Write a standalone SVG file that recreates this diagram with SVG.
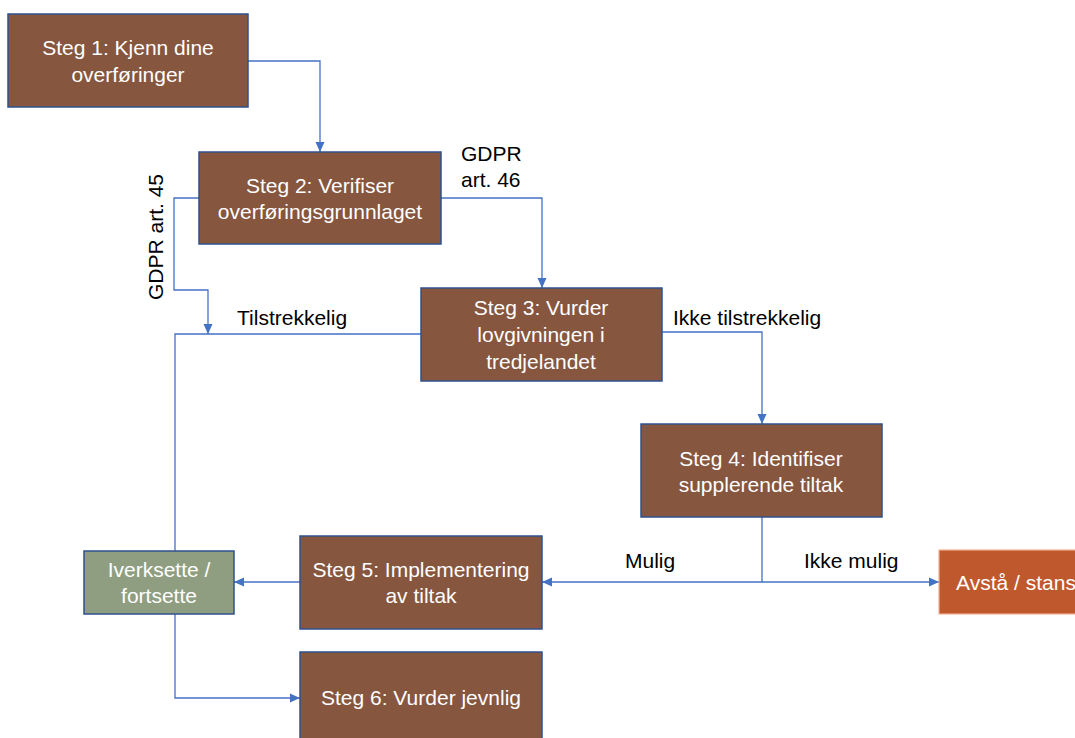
<svg xmlns="http://www.w3.org/2000/svg" width="1075" height="738" viewBox="0 0 1075 738">
<style>
  .box { fill: #86563F; stroke: #2F528F; stroke-width: 1.5; }
  .green { fill: #8F9E80; stroke: #2F528F; stroke-width: 1.5; }
  .orange { fill: #C0582D; stroke: #F2B08F; stroke-width: 1.2; }
  .t { font-family: "Liberation Sans", Arial, sans-serif; font-size: 21px; fill: #FFFFFF; text-anchor: middle; }
  .lbl { font-family: "Liberation Sans", Arial, sans-serif; font-size: 21px; fill: #000000; }
  .con { fill: none; stroke: #4472C4; stroke-width: 1.3; }
</style>
<defs>
  <marker id="arr" markerUnits="userSpaceOnUse" markerWidth="10" markerHeight="10" viewBox="0 0 10 10" refX="10" refY="5" orient="auto">
    <path d="M0,0.5 L10,5 L0,9.5 Z" fill="#4472C4"/>
  </marker>
</defs>
<rect width="1075" height="738" fill="#FFFFFF"/>

<g id="connectors">
  <path class="con" d="M248,61 H320 V152" marker-end="url(#arr)"/>
  <path class="con" d="M441,198 H542 V288" marker-end="url(#arr)"/>
  <path class="con" d="M199,198 H174 V290 H208 V334" marker-end="url(#arr)"/>
  <path class="con" d="M421,334 H175 V551"/>
  <path class="con" d="M662,332 H762 V424" marker-end="url(#arr)"/>
  <path class="con" d="M762,517 V582 H542" marker-end="url(#arr)"/>
  <path class="con" d="M762,582 H939" marker-end="url(#arr)"/>
  <path class="con" d="M300,582 H234" marker-end="url(#arr)"/>
  <path class="con" d="M175,614 V698 H300" marker-end="url(#arr)"/>
</g>

<g id="labels">
  <text class="lbl" x="461" y="161">GDPR</text>
  <text class="lbl" x="461" y="187">art. 46</text>
  <text class="lbl" transform="translate(163,237) rotate(-90)" text-anchor="middle">GDPR art. 45</text>
  <text class="lbl" x="237" y="325">Tilstrekkelig</text>
  <text class="lbl" x="673" y="325">Ikke tilstrekkelig</text>
  <text class="lbl" x="625" y="568">Mulig</text>
  <text class="lbl" x="804" y="568">Ikke mulig</text>
</g>

<g id="step1">
  <rect class="box" x="8" y="14" width="240" height="93"/>
  <text class="t" x="128" y="55">Steg 1: Kjenn dine</text>
  <text class="t" x="128" y="82">overføringer</text>
</g>
<g id="step2">
  <rect class="box" x="199" y="152" width="242" height="92"/>
  <text class="t" x="320" y="193">Steg 2: Verifiser</text>
  <text class="t" x="320" y="219">overføringsgrunnlaget</text>
</g>
<g id="step3">
  <rect class="box" x="421" y="288" width="241" height="93"/>
  <text class="t" x="541" y="315">Steg 3: Vurder</text>
  <text class="t" x="541" y="342">lovgivningen i</text>
  <text class="t" x="541" y="369">tredjelandet</text>
</g>
<g id="step4">
  <rect class="box" x="641" y="424" width="241" height="93"/>
  <text class="t" x="761" y="466">Steg 4: Identifiser</text>
  <text class="t" x="761" y="492">supplerende tiltak</text>
</g>
<g id="step5">
  <rect class="box" x="300" y="536" width="242" height="93"/>
  <text class="t" x="421" y="577">Steg 5: Implementering</text>
  <text class="t" x="421" y="603">av tiltak</text>
</g>
<g id="step6">
  <rect class="box" x="300" y="652" width="242" height="93"/>
  <text class="t" x="421" y="705">Steg 6: Vurder jevnlig</text>
</g>
<g id="iverksette">
  <rect class="green" x="84" y="551" width="150" height="63"/>
  <text class="t" x="159" y="577">Iverksette /</text>
  <text class="t" x="159" y="603">fortsette</text>
</g>
<g id="avsta">
  <rect class="orange" x="939" y="550" width="154" height="64"/>
  <text class="t" x="1016" y="590">Avstå / stans</text>
</g>
</svg>
